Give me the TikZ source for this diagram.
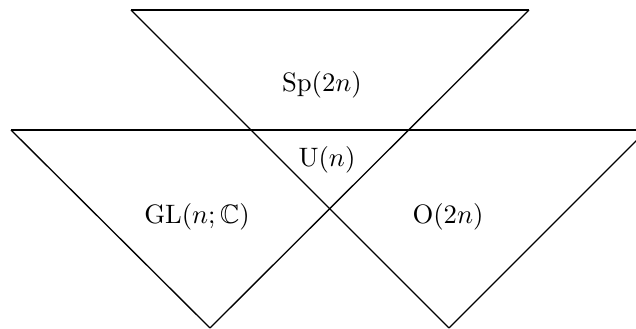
\documentclass[tikz,border=0pt]{standalone}
\usepackage{amssymb}
\begin{document}
\begin{tikzpicture}[x=0.375pt,y=-0.375pt,
  edge/.style={draw=black,line width=0.5pt},
  lbl/.style={inner sep=0pt,font=\normalsize}]
\useasboundingbox (0,0) rectangle (636,329);
\clip (0,0) rectangle (636,329);
\coordinate (tl) at (131,10);
\coordinate (tr) at (529,10);
\coordinate (ml) at (11,130);
\coordinate (mr) at (647,130);
\coordinate (bl) at (210,328);
\coordinate (br) at (449,328);
\draw[edge] (tl) -- (tr);
\draw[edge] (ml) -- (mr);
\draw[edge] (tl) -- (br);
\draw[edge] (tr) -- (bl);
\draw[edge] (ml) -- (bl);
\draw[edge] (br) -- (mr);
\node[lbl] (sp) at (322,85) {$\mathrm{Sp}(2n)$};
\node[lbl] (u) at (327,160) {$\mathrm{U}(n)$};
\node[lbl] (gl) at (197,217) {$\mathrm{GL}(n;\mathbb{C})$};
\node[lbl] (o) at (448,217) {$\mathrm{O}(2n)$};
\end{tikzpicture}
\end{document}
